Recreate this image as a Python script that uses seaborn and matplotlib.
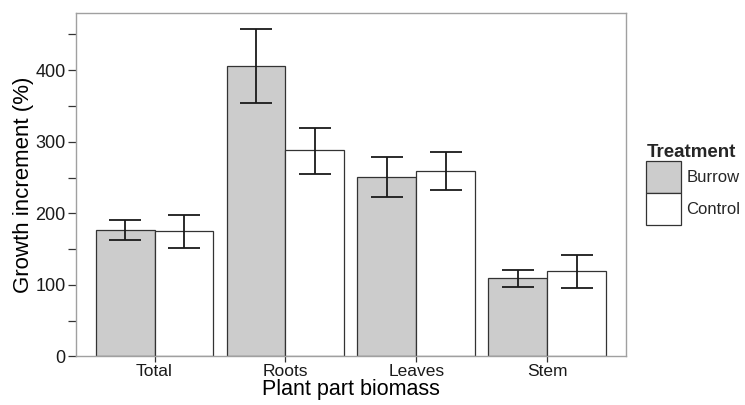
import matplotlib
matplotlib.use("Agg")
import matplotlib.pyplot as plt
import seaborn as sns
import pandas as pd
import numpy as np

parts = ["Total", "Roots", "Leaves", "Stem"]
treatments = ["Burrow", "Control"]
burrow_mean = [177, 406, 251, 109]
burrow_lo = [163, 354, 223, 97]
burrow_hi = [191, 458, 279, 121]
control_mean = [175, 288, 259, 119]
control_lo = [152, 255, 232, 96]
control_hi = [198, 319, 285, 142]

df = pd.DataFrame({
    "Plant part biomass": parts * 2,
    "Treatment": ["Burrow"] * 4 + ["Control"] * 4,
    "value": burrow_mean + control_mean,
})
lows = {"Burrow": burrow_lo, "Control": control_lo}
highs = {"Burrow": burrow_hi, "Control": control_hi}

sns.set_style("white")
plt.rcParams["font.family"] = ["Liberation Sans", "DejaVu Sans"]

fig = plt.figure(figsize=(7.45, 4.05), dpi=100)
ax = fig.add_axes([0.102, 0.12, 0.738, 0.848])

sns.barplot(data=df, x="Plant part biomass", y="value", hue="Treatment",
            order=parts, hue_order=treatments,
            palette={"Burrow": "#cccccc", "Control": "#ffffff"},
            edgecolor="#333333", linewidth=0.9, width=0.9, errorbar=None,
            saturation=1, ax=ax)

for cont, t in zip(ax.containers, treatments):
    xs = [b.get_x() + b.get_width() / 2 for b in cont]
    means = [b.get_height() for b in cont]
    lo = np.array(means) - np.array(lows[t])
    hi = np.array(highs[t]) - np.array(means)
    ax.errorbar(xs, means, yerr=[lo, hi], fmt="none", ecolor="#1a1a1a",
                elinewidth=1.3, capsize=11.5, capthick=1.3, zorder=5)

ax.set_xlim(-0.6, 3.6)
ax.set_ylim(0, 480)
ax.set_yticks([0, 100, 200, 300, 400])
ax.set_yticks([50, 150, 250, 350, 450], minor=True)
ax.tick_params(axis="y", which="both", direction="out", length=5.5, width=0.9,
               color="#333333", labelsize=13, labelcolor="#1a1a1a", left=True, pad=2)
ax.tick_params(axis="x", direction="out", length=4, width=0.9, color="#333333",
               labelsize=12.5, labelcolor="#1a1a1a", bottom=True, pad=1.5)

for s in ax.spines.values():
    s.set_color("#a0a0a0")
    s.set_linewidth(1.0)
    s.set_visible(True)

ax.set_xlabel("Plant part biomass", fontsize=15.5, color="#000000", labelpad=0)
ax.set_ylabel("Growth increment (%)", fontsize=16, color="#000000", labelpad=1)

sns.move_legend(ax, loc="center left", bbox_to_anchor=(1.01, 0.5),
                title="Treatment", frameon=False, handlelength=2.1,
                handleheight=2.55, labelspacing=0, handletextpad=0.3,
                fontsize=12, title_fontproperties={"weight": "bold", "size": 13.5})
leg = ax.get_legend()
leg._legend_box.align = "left"

fig.savefig("out.png", dpi=100)
